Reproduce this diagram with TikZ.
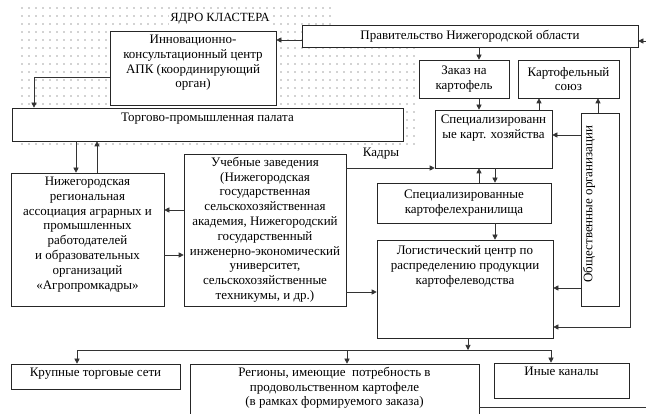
\documentclass[tikz,border=0pt]{standalone}
\usepackage{fontspec}
\setmainfont{Liberation Serif}
\usetikzlibrary{arrows.meta,positioning,calc}

\tikzset{
  box/.style={draw=black!85, fill=white, line width=0.6pt, inner sep=0pt},
  txt/.style={align=center, inner sep=0pt, font=\fontsize{13}{14.8}\selectfont},
  arr/.style={-{Triangle[length=5pt,width=5pt]}, line width=0.6pt, draw=black!80},
  link/.style={line width=0.6pt, draw=black!80}
}

\begin{document}
\begin{tikzpicture}[x=1pt, y=-1pt]
  \useasboundingbox (0,0) rectangle (646,414);

  % dotted core area
  \begin{scope}
    \clip (20,5) -- (331,5) -- (331,47) -- (416,47) -- (416,146) -- (20,146) -- cycle;
    \foreach \x in {22,29,...,418}
      \foreach \y in {8,16,...,146}
        \fill[black!75] (\x,\y) circle (0.6pt);
  \end{scope}
  \node[fill=white, inner sep=1pt, font=\fontsize{12.5}{13}\selectfont] (core) at (220,19) {ЯДРО КЛАСТЕРА};

  % boxes
  \node[box, minimum width=166, minimum height=74] (innov) at (193,68) {};
  \node[box, minimum width=336, minimum height=22] (gov) at (470,36) {};
  \node[box, minimum width=90, minimum height=38] (order) at (464,79) {};
  \node[box, minimum width=101, minimum height=38] (union) at (568.5,79) {};
  \node[box, minimum width=117, minimum height=58] (farms) at (493.5,139) {};
  \node[box, minimum width=38, minimum height=193] (public) at (600,209.5) {};
  \node[box, minimum width=391, minimum height=33] (chamber) at (207.5,124.5) {};
  \node[box, minimum width=153, minimum height=133] (assoc) at (87.5,239.5) {};
  \node[box, minimum width=162, minimum height=152] (school) at (265,230) {};
  \node[box, minimum width=174, minimum height=40] (store) at (464,203) {};
  \node[box, minimum width=176, minimum height=98] (logist) at (465,289) {};
  \node[box, minimum width=169, minimum height=25] (retail) at (95.5,376.5) {};
  \node[box, minimum width=289, minimum height=58] (regions) at (334.5,393) {};
  \node[box, minimum width=135, minimum height=35] (other) at (561.5,380.5) {};

  % texts
  \node[txt, below=4pt of innov.north] {Инновационно-\\консультационный центр\\АПК (координирующий\\орган)};
  \node[txt] at (gov) {Правительство Нижегородской области};
  \node[txt] at (order) {Заказ на\\картофель};
  \node[txt] at (union) {Картофельный\\союз};
  \node[txt, below=5pt of farms.north] {Специализированн\\ые карт. хозяйства};
  \node[txt, rotate=90] at (589,204) {Общественные организации};
  \node[txt, below=5pt of chamber.north] {Торгово-промышленная палата};
  \node[txt, below=4pt of assoc.north] {Нижегородская\\региональная\\ассоциация аграрных и\\промышленных\\работодателей\\и образовательных\\организаций\\«Агропромкадры»};
  \node[txt, below=3pt of school.north] {Учебные заведения\\(Нижегородская\\государственная\\сельскохозяйственная\\академия, Нижегородский\\государственный\\инженерно-экономический\\университет,\\сельскохозяйственные\\техникумы, и др.)};
  \node[txt] at (store) {Специализированные\\картофелехранилища};
  \node[txt, below=6pt of logist.north] {Логистический центр по\\распределению продукции\\картофелеводства};
  \node[txt, below=4pt of retail.north] {Крупные торговые сети};
  \node[txt, below=3pt of regions.north] {Регионы, имеющие\ \ потребность в\\продовольственном картофеле\\(в рамках формируемого заказа)};
  \node[txt, below=4pt of other.north] {Иные каналы};
  \node[txt] (staff) at (381,154) {Кадры};

  % connectors
  \coordinate (inR) at (646,41);
  \coordinate (outR) at (646,407);
  \coordinate (bus) at (468,350);
  \draw[arr] (inR) -- (gov.east |- inR);
  \draw[arr] (gov.west |- 0,40) -- (innov.east |- 0,40);
  \draw[arr] (innov.west |- 0,77) -| (chamber.north -| 34,0);
  \draw[arr] (chamber.south -| 76,0) -- (assoc.north -| 76,0);
  \draw[arr] (assoc.north -| 97,0) -- (chamber.south -| 97,0);
  \draw[arr] (school.west |- 0,210) -- (assoc.east |- 0,210);
  \draw[arr] (assoc.east |- 0,255) -- (school.west |- 0,255);
  \draw[arr] (school.east |- 0,168) -- (farms.west |- 0,168);
  \draw[arr] (school.east |- 0,292) -- (logist.west |- 0,292);
  \draw[arr] (gov.south -| 479,0) -- (order.north -| 479,0);
  \draw[arr] (order.south -| 479,0) -- (farms.north -| 479,0);
  \draw[arr] (farms.north -| 539,0) -- (union.south -| 539,0);
  \draw[arr] (public.north -| 598,0) -- (union.south -| 598,0);
  \draw[arr] (public.west |- 0,135) -- (farms.east |- 0,135);
  \draw[arr] (public.west |- 0,288) -- (logist.east |- 0,288);
  \draw[arr] (store.north -| 479,0) -- (farms.south -| 479,0);
  \draw[arr] (farms.south -| 495,0) -- (store.north -| 495,0);
  \draw[arr] (store.south -| 495,0) -- (logist.north -| 495,0);
  \draw[arr] (gov.south -| 630,0) |- (logist.east |- 0,327);
  \draw[arr] (logist.south -| bus) -- (bus);
  \draw[arr] (bus) -| (retail.north -| 77,0);
  \draw[arr] (bus) -| (regions.north -| 347,0);
  \draw[arr] (bus) -| (other.north -| 551,0);
  \draw[link] (regions.east |- outR) -- (outR);
\end{tikzpicture}
\end{document}
